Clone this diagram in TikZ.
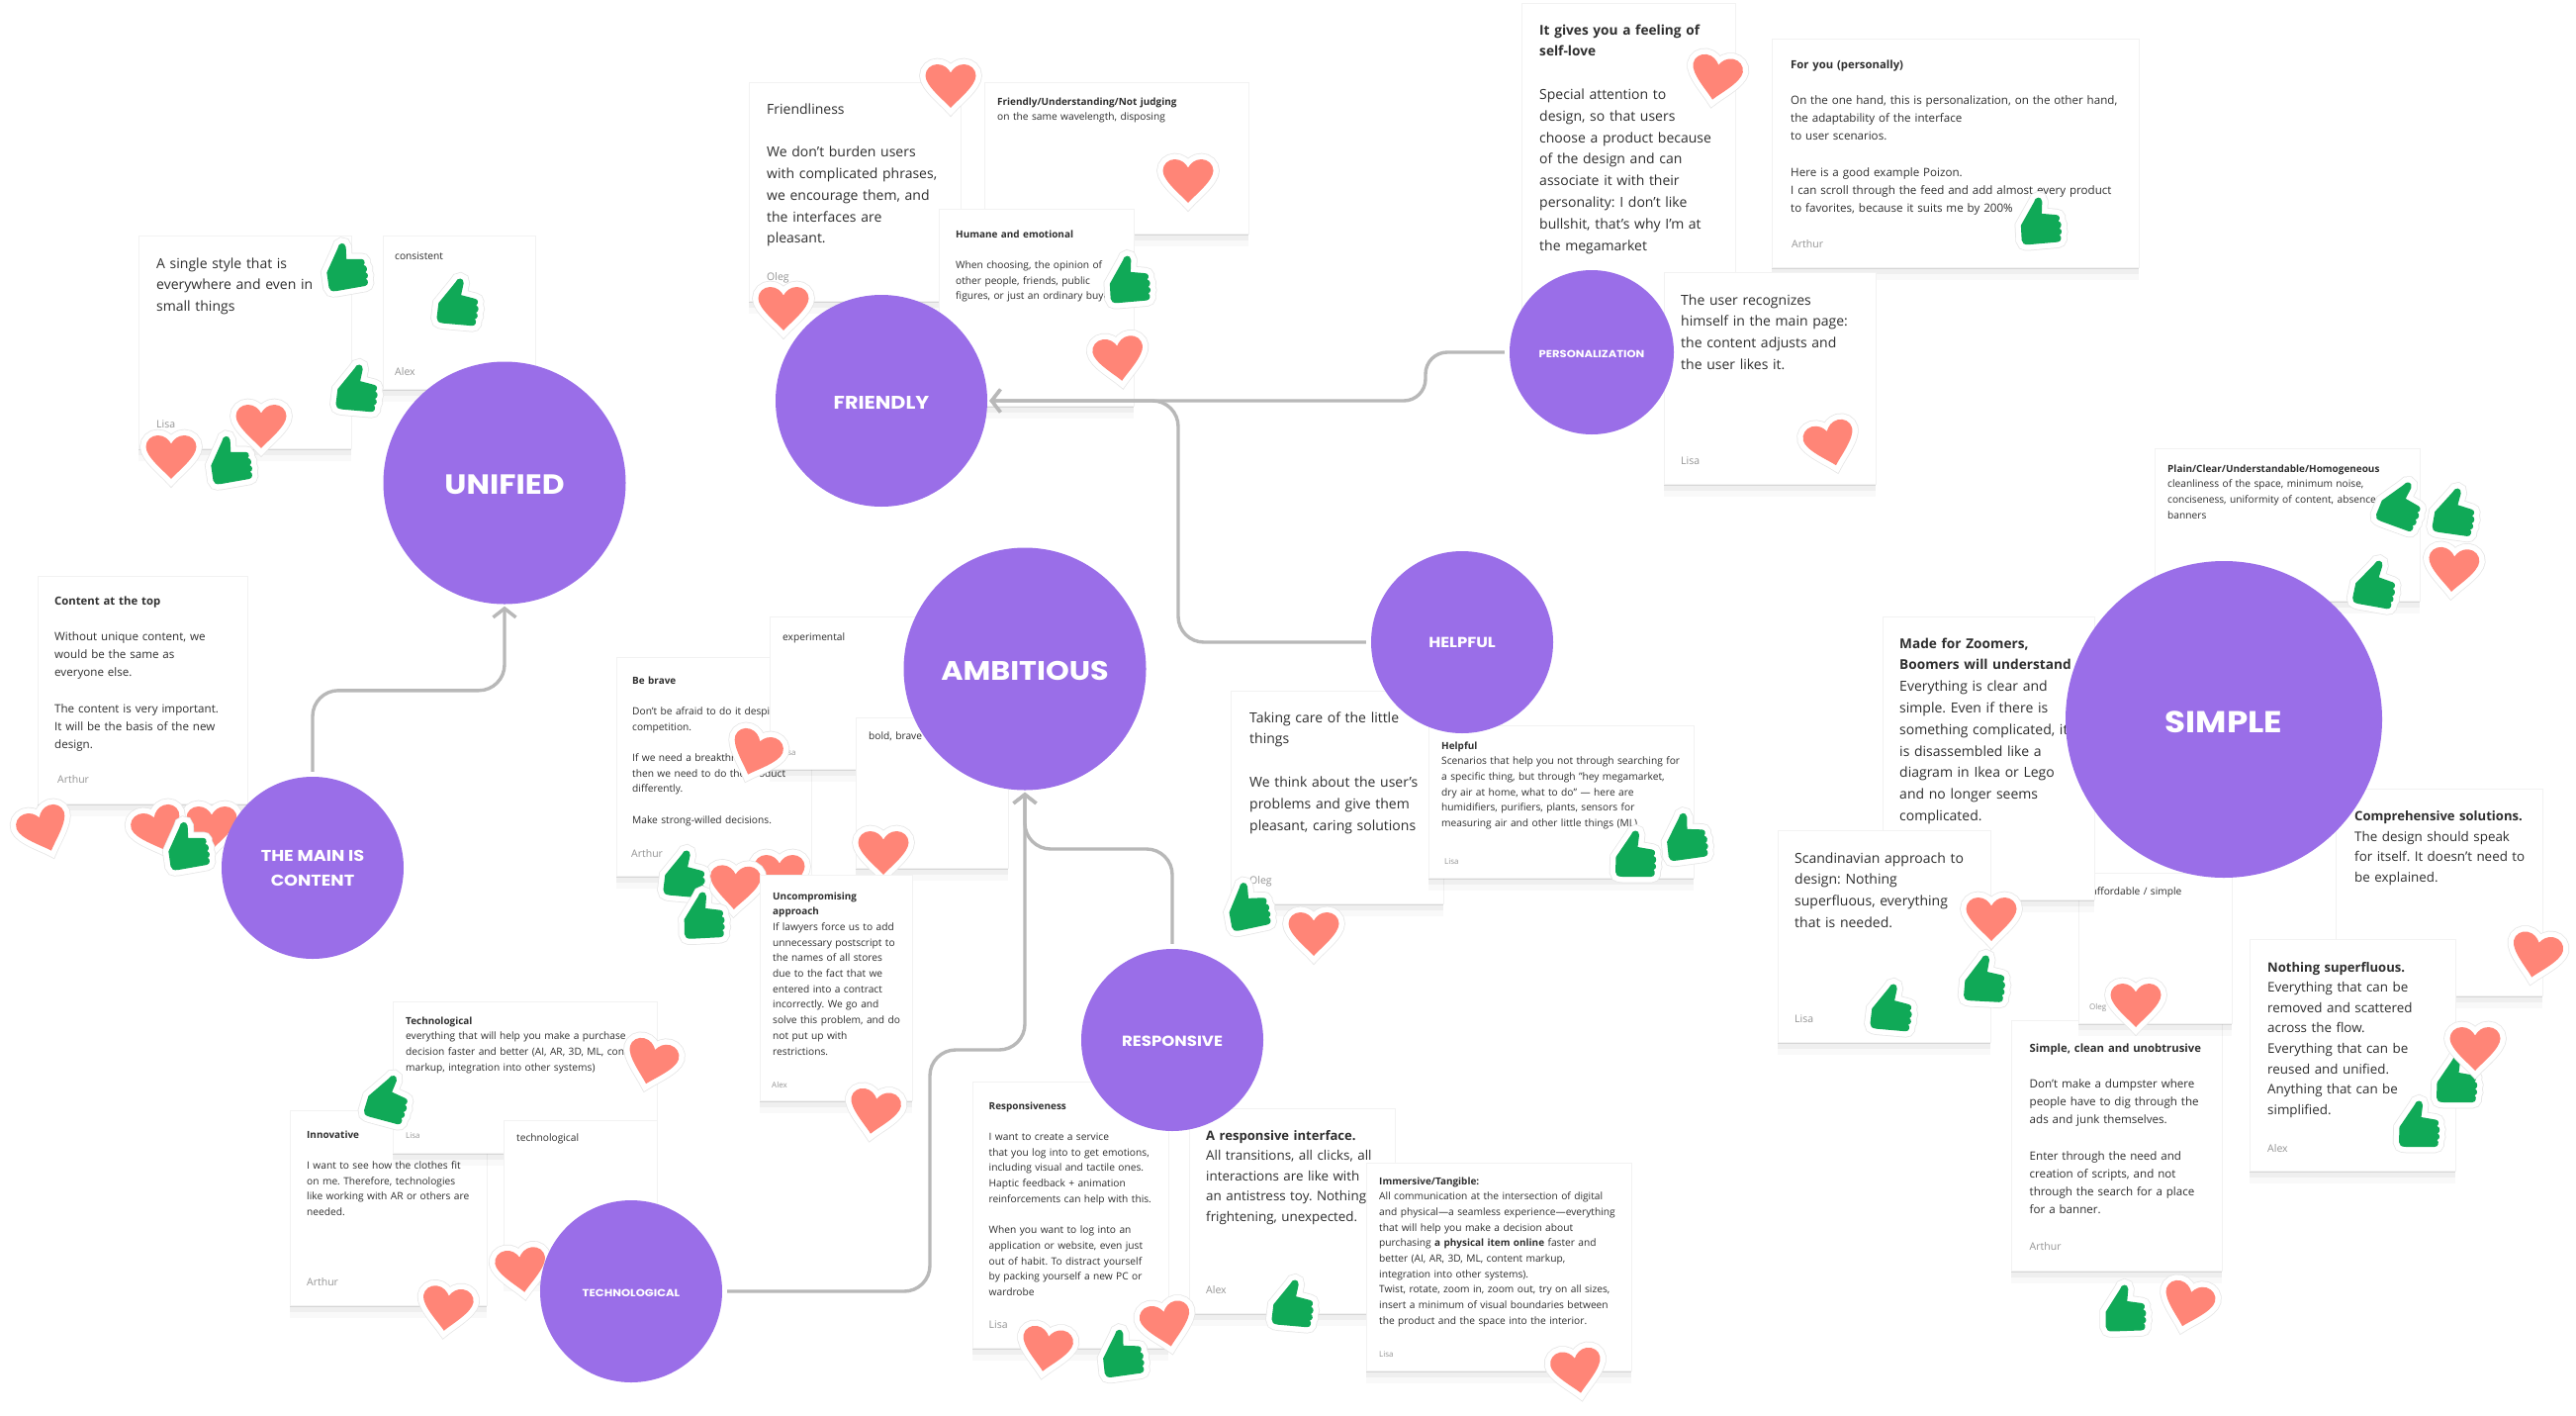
\documentclass[tikz,border=0pt]{standalone}
\usepackage{fontspec}
\setmainfont{Open Sans}[BoldFeatures={Scale=0.975}]
\newfontfamily\bubblefont{Poppins}[FakeStretch=1.12]
\usetikzlibrary{arrows.meta,shadows}
\definecolor{bubblepurple}{HTML}{9A6EE8}
\definecolor{heartcoral}{HTML}{FF8577}
\definecolor{thumbgreen}{HTML}{10A957}
\definecolor{flowgrey}{HTML}{B8B8B8}
\frenchspacing

\begin{document}
\begin{tikzpicture}[x=1pt,y=-1pt,
	cardbox/.style={rectangle, anchor=north west, inner sep=0pt, fill=white, draw=black!5, line width=0.5pt,
		drop shadow={shadow xshift=0pt, shadow yshift=-1.5pt, opacity=0.10, fill=black},
		drop shadow={shadow xshift=0pt, shadow yshift=-7pt, opacity=0.04, fill=black},
		drop shadow={shadow xshift=0pt, shadow yshift=-13pt, opacity=0.025, fill=black}},
	cardtext/.style={anchor=base west, inner sep=0pt, align=left, text=black!82},
	largetext/.style={cardtext, font=\fontsize{14}{21.8}\selectfont},
	bodytext/.style={cardtext, font=\fontsize{13.4}{20.6}\selectfont},
	midtext/.style={cardtext, font=\fontsize{11.6}{18.2}\selectfont},
	smalltext/.style={cardtext, font=\fontsize{10.2}{15.7}\selectfont},
	authortext/.style={anchor=base west, inner sep=0pt, text=black!42, font=\fontsize{10.5}{13}\selectfont},
	smallauthor/.style={authortext, font=\fontsize{8}{10}\selectfont},
	bubble/.style={circle, inner sep=0pt, fill=bubblepurple, text=white, align=center},
	flowline/.style={-{Straight Barb[length=9pt,width=23pt,line width=3.4pt]}, draw=flowgrey, line width=3.4pt, rounded corners=26pt, shorten <=5pt, shorten >=2pt},
	heart/.pic={
		\path[fill=heartcoral, preaction={draw=black!10, line width=12.5pt}, preaction={draw=white, line width=11pt}]
			(0,23) .. controls (-6,16) and (-25.5,1) .. (-25.5,-9.5) .. controls (-25.5,-16) and (-20,-21) .. (-13.5,-21)
			.. controls (-7,-21) and (-2.5,-17) .. (0,-12.5) .. controls (2.5,-17) and (7,-21) .. (13.5,-21)
			.. controls (20,-21) and (25.5,-16) .. (25.5,-9.5) .. controls (25.5,1) and (6,16) .. (0,23) -- cycle;
	},
	thumb/.pic={
		\path[fill=thumbgreen, line join=round, preaction={draw=black!10, line width=12.5pt}, preaction={draw=white, line width=11pt}]
			(-20.5,3) -- (-5.5,-19) .. controls (-4,-25) and (3,-25) .. (3,-19) -- (1.5,-7) -- (16,-4.5)
			.. controls (19.5,-4) and (20,0) .. (17.5,2) .. controls (21,3) and (21,8) .. (18,9.5)
			.. controls (21,11) and (20.5,15) .. (17.5,16) .. controls (20,18) and (19,23) .. (15,23)
			-- (-14,23) .. controls (-19,23) and (-21,21) .. (-21,18) -- cycle;
	},
	]
	\useasboundingbox (0,0) rectangle (2604,1430);
	\fill[white] (0,0) rectangle (2604,1430);

	%Unified
	\node[cardbox, minimum width=215, minimum height=215] (single) at (140,238) {};
	\node[largetext, text width=190] (singletext) at (158,271) {A single style that is\\everywhere and even in\\small things};
	\node[authortext] (singleauthor) at (158,432) {Lisa};
	\node[cardbox, minimum width=154, minimum height=155] (consistent) at (387,238) {};
	\node[smalltext, text width=130] (consistenttext) at (399,262) {consistent};
	\node[authortext] (consistentauthor) at (399,379) {Alex};
	\node[bubble, minimum size=245, text height=22.6pt, font=\bubblefont\bfseries\fontsize{28}{32}\selectfont] (unified) at (510,488) {UNIFIED};
	\pic[rotate=10] at (350,269) {thumb};
	\pic[rotate=-5] at (464,305) {thumb};
	\pic[rotate=-5] at (362,392) {thumb};
	\pic at (264,430) {heart};
	\pic at (173,461) {heart};
	\pic[rotate=10] at (233,464) {thumb};

	%Main is content
	\node[cardbox, minimum width=212, minimum height=230] (contenttop) at (38,582) {};
	\node[midtext, text width=190] (contenttoptext) at (55,611) {\textbf{Content at the top}\\[\baselineskip]Without unique content, we\\would be the same as\\everyone else.\\[\baselineskip]The content is very important.\\It will be the basis of the new\\design.};
	\node[authortext] (contenttopauthor) at (58,791) {Arthur};
	\pic[rotate=20] at (44,838) {heart};
	\pic at (214,836) {heart};
	\pic[rotate=20] at (160,838) {heart};
	\pic[rotate=10] at (190,854) {thumb};
	\node[bubble, minimum size=184, font=\bubblefont\bfseries\fontsize{15.8}{25}\selectfont] (maincontent) at (316,877) {THE MAIN IS\\CONTENT};

	%Friendly
	\node[cardbox, minimum width=214, minimum height=221] (friendliness) at (757,83) {};
	\node[largetext, text width=190] (friendlinesstext) at (775,115) {Friendliness\\[\baselineskip]We don't burden users\\with complicated phrases,\\we encourage them, and\\the interfaces are\\pleasant.};
	\node[authortext] (friendlinessauthor) at (775,283) {Oleg};
	\node[cardbox, minimum width=267, minimum height=153] (understanding) at (995,83) {};
	\node[smalltext, text width=245] (understandingtext) at (1008,106) {\textbf{Friendly/Understanding/Not judging}\\on the same wavelength, disposing};
	\node[cardbox, minimum width=197, minimum height=199] (humane) at (949,211) {};
	\node[smalltext, text width=178] (humanetext) at (966,240) {\textbf{Humane and emotional}\\[\baselineskip]When choosing, the opinion of\\other people, friends, public\\figures, or just an ordinary buyer};
	\node[bubble, minimum size=214, text height=16pt, font=\bubblefont\bfseries\fontsize{18.5}{24}\selectfont] (friendly) at (891,405) {FRIENDLY};
	\pic at (961,86) {heart};
	\pic at (1201,182) {heart};
	\pic[rotate=5] at (1142,282) {thumb};
	\pic at (792,311) {heart};
	\pic[rotate=8] at (1131,362) {heart};

	%Personalization
	\node[cardbox, minimum width=216, minimum height=337] (selflove) at (1538,3) {};
	\node[largetext, text width=195] (selflovetext) at (1556,35) {\textbf{It gives you a feeling of}\\\textbf{self-love}\\[\baselineskip]Special attention to\\design, so that users\\choose a product because\\of the design and can\\associate it with their\\personality: I don't like\\bullshit, that's why I'm at\\the megamarket};
	\node[cardbox, minimum width=371, minimum height=231] (foryou) at (1791,39) {};
	\node[midtext, text width=345] (foryoutext) at (1810,69) {\textbf{For you (personally)}\\[\baselineskip]On the one hand, this is personalization, on the other hand,\\the adaptability of the interface\\to user scenarios.\\[\baselineskip]Here is a good example Poizon.\\I can scroll through the feed and add almost every product\\to favorites, because it suits me by 200\%};
	\node[authortext] (foryouauthor) at (1811,250) {Arthur};
	\node[cardbox, minimum width=214, minimum height=214] (recognizes) at (1682,275) {};
	\node[largetext, text width=190] (recognizestext) at (1699,308) {The user recognizes\\himself in the main page:\\the content adjusts and\\the user likes it.};
	\node[authortext] (recognizesauthor) at (1699,469) {Lisa};
	\node[bubble, minimum size=166, text height=10.2pt, font=\bubblefont\bfseries\fontsize{10.3}{13}\selectfont] (personalization) at (1609,356) {PERSONALIZATION};
	\pic[rotate=-10] at (1735,78) {heart};
	\pic[rotate=5] at (2063,223) {thumb};
	\pic[rotate=15] at (1850,448) {heart};

	%Ambitious
	\node[cardbox, minimum width=197, minimum height=221] (bebrave) at (623,664) {};
	\node[smalltext, text width=180] (bebravetext) at (639,691) {\textbf{Be brave}\\[\baselineskip]Don't be afraid to do it despite the\\competition.\\[\baselineskip]If we need a breakthrough,\\then we need to do the product\\differently.\\[\baselineskip]Make strong-willed decisions.};
	\node[authortext] (bebraveauthor) at (638,866) {Arthur};
	\node[cardbox, minimum width=154, minimum height=154] (experimental) at (778,623) {};
	\node[smalltext, text width=130] (experimentaltext) at (791,647) {experimental};
	\node[smallauthor] (experimentalauthor) at (790,763) {Lisa};
	\pic[rotate=-20] at (764,761) {heart};
	\node[cardbox, minimum width=154, minimum height=152] (boldbrave) at (865,725) {};
	\node[smalltext, text width=130] (boldbravetext) at (878,747) {bold, brave};
	\pic at (788,885) {heart};
	\pic at (893,861) {heart};
	\pic[rotate=-3] at (743,896) {heart};
	\node[cardbox, minimum width=154, minimum height=228] (uncompromising) at (768,884) {};
	\node[smalltext, text width=145] (uncompromisingtext) at (781,909) {\textbf{Uncompromising}\\\textbf{approach}\\If lawyers force us to add\\unnecessary postscript to\\the names of all stores\\due to the fact that we\\entered into a contract\\incorrectly. We go and\\solve this problem, and do\\not put up with\\restrictions.};
	\node[smallauthor] (uncompromisingauthor) at (780,1099) {Alex};
	\node[bubble, minimum size=245, text height=24pt, font=\bubblefont\bfseries\fontsize{27}{32}\selectfont] (ambitious) at (1036,676) {AMBITIOUS};
	\pic[rotate=-5] at (693,883) {thumb};
	\pic[rotate=3] at (712,925) {thumb};
	\pic[rotate=-10] at (884,1123) {heart};

	%Helpful
	\node[cardbox, minimum width=215, minimum height=215] (takingcare) at (1244,698) {};
	\node[largetext, text width=195] (takingcaretext) at (1263,730) {Taking care of the little\\things\\[\baselineskip]We think about the user's\\problems and give them\\pleasant, caring solutions};
	\node[authortext] (takingcareauthor) at (1263,893) {Oleg};
	\node[cardbox, minimum width=268, minimum height=154] (helpfulcard) at (1444,733) {};
	\node[smalltext, text width=250] (helpfulcardtext) at (1457,757) {\textbf{Helpful}\\Scenarios that help you not through searching for\\a specific thing, but through "hey megamarket,\\dry air at home, what to do" --- here are\\humidifiers, purifiers, plants, sensors for\\measuring air and other little things (ML)};
	\node[smallauthor] (helpfulcardauthor) at (1460,873) {Lisa};
	\node[bubble, minimum size=184, font=\bubblefont\bfseries\fontsize{14.7}{16}\selectfont] (helpful) at (1478,649) {HELPFUL};
	\pic[rotate=12] at (1262,915) {thumb};
	\pic at (1328,943) {heart};
	\pic[rotate=8] at (1705,845) {thumb};
	\pic at (1654,863) {thumb};

	%Technological
	\node[cardbox, minimum width=199, minimum height=197] (innovative) at (293,1122) {};
	\node[smalltext, text width=175] (innovativetext) at (310,1150) {\textbf{Innovative}\\[\baselineskip]I want to see how the clothes fit\\on me. Therefore, technologies\\like working with AR or others are\\needed.};
	\node[authortext] (innovativeauthor) at (310,1299) {Arthur};
	\node[cardbox, minimum width=267, minimum height=153] (techcard) at (397,1012) {};
	\node[smalltext, text width=250] (techcardtext) at (410,1035) {\textbf{Technological}\\everything that will help you make a purchase\\decision faster and better (AI, AR, 3D, ML, content\\markup, integration into other systems)};
	\node[smallauthor] (techcardauthor) at (410,1150) {Lisa};
	\node[cardbox, minimum width=155, minimum height=160] (techsmall) at (509,1132) {};
	\node[smalltext, text width=130] (techsmalltext) at (522,1153) {technological};
	\pic[rotate=-15] at (393,1110) {thumb};
	\pic[rotate=-15] at (659,1073) {heart};
	\pic[rotate=-8] at (452,1322) {heart};
	\pic[rotate=8] at (527,1283) {heart};
	\node[bubble, minimum size=184, text height=10.2pt, font=\bubblefont\bfseries\fontsize{10.4}{14}\selectfont] (technological) at (638,1305) {TECHNOLOGICAL};

	%Responsive
	\node[cardbox, minimum width=198.5, minimum height=269] (responsiveness) at (982.5,1093) {};
	\node[smalltext, text width=178] (responsivenesstext) at (999.5,1121) {\textbf{Responsiveness}\\[\baselineskip]I want to create a service\\that you log into to get emotions,\\including visual and tactile ones.\\Haptic feedback + animation\\reinforcements can help with this.\\[\baselineskip]When you want to log into an\\application or website, even just\\out of habit. To distract yourself\\by packing yourself a new PC or\\wardrobe};
	\node[authortext] (responsivenessauthor) at (999.5,1342) {Lisa};
	\node[cardbox, minimum width=208, minimum height=207] (interface) at (1202,1120) {};
	\node[bodytext, text width=185] (interfacetext) at (1219,1152) {\textbf{A responsive interface.}\\All transitions, all clicks, all\\interactions are like with\\an antistress toy. Nothing\\frightening, unexpected.};
	\node[authortext] (interfaceauthor) at (1219,1307) {Alex};
	\node[cardbox, minimum width=268, minimum height=210] (immersive) at (1381,1175) {};
	\node[smalltext, text width=250] (immersivetext) at (1394,1197) {\textbf{Immersive/Tangible:}\\All communication at the intersection of digital\\and physical---a seamless experience---everything\\that will help you make a decision about\\purchasing \textbf{a physical item online} faster and\\better (AI, AR, 3D, ML, content markup,\\integration into other systems).\\Twist, rotate, zoom in, zoom out, try on all sizes,\\insert a minimum of visual boundaries between\\the product and the space into the interior.};
	\node[smallauthor] (immersiveauthor) at (1394,1371) {Lisa};
	\node[bubble, minimum size=184, text height=13.4pt, font=\bubblefont\bfseries\fontsize{14.8}{16}\selectfont] (responsive) at (1185,1051) {RESPONSIVE};
	\pic[rotate=-10] at (1058,1363) {heart};
	\pic[rotate=12] at (1179,1338) {heart};
	\pic[rotate=8] at (1135,1367) {thumb};
	\pic[rotate=-5] at (1308,1317) {thumb};
	\pic[rotate=10] at (1594,1385) {heart};

	%Simple
	\node[cardbox, minimum width=213, minimum height=253] (simpleclean) at (2033,1031) {};
	\node[midtext, text width=195] (simplecleantext) at (2051.5,1063) {\textbf{Simple, clean and unobtrusive}\\[\baselineskip]Don't make a dumpster where\\people have to dig through the\\ads and junk themselves.\\[\baselineskip]Enter through the need and\\creation of scripts, and not\\through the search for a place\\for a banner.};
	\node[authortext] (simplecleanauthor) at (2051.5,1263) {Arthur};
	\node[cardbox, minimum width=155, minimum height=152] (affordable) at (2101,882) {};
	\node[smalltext, text width=135] (affordabletext) at (2114,904) {affordable / simple};
	\node[smallauthor] (affordableauthor) at (2112,1020) {Oleg};
	\node[cardbox, minimum width=214, minimum height=286] (zoomers) at (1903,623) {};
	\node[largetext, text width=195] (zoomerstext) at (1920,655) {\textbf{Made for Zoomers,}\\\textbf{Boomers will understand}\\Everything is clear and\\simple. Even if there is\\something complicated, it\\is disassembled like a\\diagram in Ikea or Lego\\and no longer seems\\complicated.};
	\node[cardbox, minimum width=215, minimum height=214] (scandinavian) at (1797,839) {};
	\node[largetext, text width=195] (scandinaviantext) at (1814,872) {Scandinavian approach to\\design: Nothing\\superfluous, everything\\that is needed.};
	\node[authortext] (scandinavianauthor) at (1814,1033) {Lisa};
	\node[cardbox, minimum width=208.5, minimum height=209] (comprehensive) at (2361,797) {};
	\node[bodytext, text width=188] (comprehensivetext) at (2380,829.5) {\textbf{Comprehensive solutions.}\\The design should speak\\for itself. It doesn't need to\\be explained.};
	\node[cardbox, minimum width=208, minimum height=234] (nothing) at (2274,949) {};
	\node[bodytext, text width=185] (nothingtext) at (2292,982) {\textbf{Nothing superfluous.}\\Everything that can be\\removed and scattered\\across the flow.\\Everything that can be\\reused and unified.\\Anything that can be\\simplified.};
	\node[authortext] (nothingauthor) at (2292,1164) {Alex};
	\node[cardbox, minimum width=268, minimum height=154] (plain) at (2178,453) {};
	\node[smalltext, text width=250] (plaintext) at (2191,477) {\textbf{Plain/Clear/Understandable/Homogeneous}\\cleanliness of the space, minimum noise,\\conciseness, uniformity of content, absence of\\banners};
	\node[bubble, minimum size=320, text height=27.4pt, font=\bubblefont\bfseries\fontsize{30.5}{34}\selectfont] (simple) at (2248,727) {SIMPLE};
	\pic[rotate=-20] at (2428,510) {thumb};
	\pic[rotate=-8] at (2482,517) {thumb};
	\pic[rotate=-5] at (2480,575) {heart};
	\pic[rotate=-10] at (2402,590) {thumb};
	\pic at (2013,928) {heart};
	\pic[rotate=-3] at (2007,989) {thumb};
	\pic[rotate=-5] at (1913,1018) {thumb};
	\pic at (2159,1015) {heart};
	\pic[rotate=-12] at (2564,965) {heart};
	\pic at (2484,1091) {thumb};
	\pic at (2502,1059) {heart};
	\pic at (2446,1136) {thumb};
	\pic[rotate=2] at (2149,1322) {thumb};
	\pic[rotate=-15] at (2212,1318) {heart};

	%Lines
	\coordinate (personalbend) at (1441,405);
	\coordinate (helpfulbend) at (1191,405);
	\coordinate (techbend) at (940,1061);
	\coordinate (responsivebend) at (1036,858);
	\draw[flowline] (maincontent.north) -- ++(0,-87) -| (unified.south);
	\draw[flowline, rounded corners=22pt] (personalization.west) -| (personalbend) -- (friendly.east);
	\draw[flowline] (helpful.west) -| (helpfulbend) -- (friendly.east);
	\draw[flowline] (technological.east) -| (techbend) -| (ambitious.south);
	\draw[flowline] (responsive.north) |- (responsivebend) -- (ambitious.south);
\end{tikzpicture}
\end{document}
